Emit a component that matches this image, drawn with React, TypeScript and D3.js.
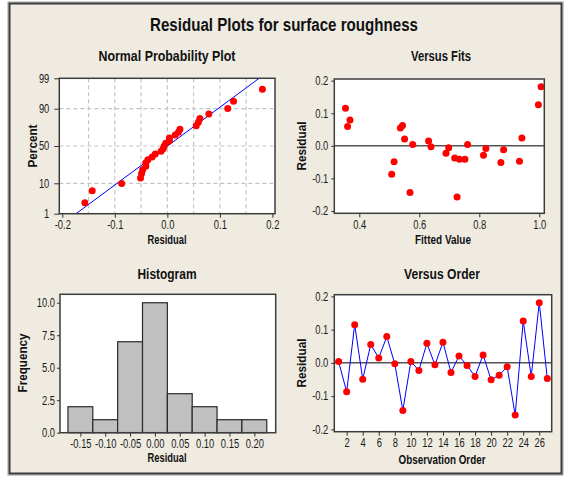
import React, { useEffect, useRef } from 'react';
import * as d3 from 'd3';

// residuals in observation order (read from "Versus Order")
const residuals = [
  0.004, -0.087, 0.115, -0.049, 0.055, 0.015, 0.079, -0.003, -0.143, 0.004,
  -0.023, 0.059, -0.006, 0.062, -0.029, 0.021, -0.008, -0.041, 0.024, -0.051,
  -0.037, -0.012, -0.157, 0.126, -0.041, 0.181, -0.047,
];
// fitted values, same order (read from "Versus Fits")
const fittedValues = [
  0.578, 0.508, 0.354, 0.516, 0.537, 0.631, 0.369, 0.639, 0.569, 0.761,
  0.689, 0.361, 0.698, 0.544, 0.814, 0.551, 0.822, 0.752, 0.942, 0.872,
  0.718, 0.881, 0.726, 0.997, 0.734, 1.006, 0.934,
];
const histMids = [-0.15, -0.1, -0.05, 0.0, 0.05, 0.1, 0.15, 0.2];
const histCounts = [2, 1, 7, 10, 3, 2, 1, 1];

const percentTicks = [1, 10, 50, 90, 99];
const percentGrid = [10, 50, 90];
const nppResidualTicks = [-0.2, -0.1, 0.0, 0.1, 0.2];
const nppGridTicks = [-0.15, -0.1, -0.05, 0, 0.05, 0.1, 0.15];
const residualTicks = [-0.2, -0.1, 0.0, 0.1, 0.2];
const fittedTicks = [0.4, 0.6, 0.8, 1.0];
const freqTicks = [0, 2.5, 5, 7.5, 10];
const orderTicks = [2, 4, 6, 8, 10, 12, 14, 16, 18, 20, 22, 24, 26];

const FONT = '"Liberation Sans", Arial, sans-serif';
const locale = d3.formatLocale({ decimal: '.', thousands: ',', grouping: [3], currency: ['', ''], minus: '-' });

// inverse normal cdf (Acklam) for the probability axis
function probit(p: number): number {
  const a = [-39.69683028665376, 220.9460984245205, -275.9285104469687, 138.357751867269, -30.66479806614716, 2.506628277459239];
  const b = [-54.47609879822406, 161.5858368580409, -155.6989798598866, 66.80131188771972, -13.28068155288572];
  const c = [-0.007784894002430293, -0.3223964580411365, -2.400758277161838, -2.549671010229528, 4.374664141464968, 2.938163982698783];
  const d = [0.007784695709041462, 0.3224671290700398, 2.445134137142996, 3.754408661907416];
  const plow = 0.02425;
  if (p < plow) {
    const q = Math.sqrt(-2 * Math.log(p));
    return (((((c[0] * q + c[1]) * q + c[2]) * q + c[3]) * q + c[4]) * q + c[5]) / ((((d[0] * q + d[1]) * q + d[2]) * q + d[3]) * q + 1);
  }
  if (p > 1 - plow) return -probit(1 - p);
  const q = p - 0.5;
  const r = q * q;
  return ((((((a[0] * r + a[1]) * r + a[2]) * r + a[3]) * r + a[4]) * r + a[5]) * q) / (((((b[0] * r + b[1]) * r + b[2]) * r + b[3]) * r + b[4]) * r + 1);
}

const App = () => {
  const svgRef = useRef<SVGSVGElement>(null);

  useEffect(() => {
    const svgEl = svgRef.current;
    if (!svgEl) return;
    const svg = d3.select(svgEl);
    svg.selectAll('*').remove();

    const W = 565;
    const H = 477;

    svg.append('rect').attr('width', W).attr('height', H).attr('fill', '#ffffff');
    // outer frame
    svg.append('rect').attr('x', 8).attr('y', 2).attr('width', 555).attr('height', 473)
      .attr('fill', 'none').attr('stroke', '#9a9a9a').attr('stroke-width', 1);
    svg.append('rect').attr('x', 9.5).attr('y', 3.5).attr('width', 552).attr('height', 470)
      .attr('fill', '#efebe1').attr('stroke', '#3a3a3a').attr('stroke-width', 2);

    // titles: width = width of the text in the reference (the original font is narrow)
    const text = (x: number, y: number, s: string, size: number, width: number, rotate = false) => {
      const t = svg.append('text')
        .attr('text-anchor', 'middle')
        .attr('font-family', FONT)
        .attr('font-size', size)
        .attr('font-weight', 'bold')
        .attr('fill', '#111')
        .attr('data-w', width)
        .text(s);
      if (rotate) t.attr('transform', `translate(${x},${y}) rotate(-90)`);
      else t.attr('x', x).attr('y', y);
      return t;
    };

    const styleAxis = (sel: any) => {
      sel.select('.domain').remove();
      sel.selectAll('line').attr('stroke', '#333').attr('stroke-width', 1);
      sel.selectAll('text').attr('fill', '#1a1a1a').attr('font-size', 12).attr('font-family', FONT)
        .attr('data-f', 0.78);
    };

    const panelBg = (p: any) => {
      svg.append('rect').attr('x', p.x0).attr('y', p.y0).attr('width', p.x1 - p.x0).attr('height', p.y1 - p.y0)
        .attr('fill', '#ffffff');
    };
    const panelFrame = (p: any) => {
      svg.append('rect').attr('x', p.x0).attr('y', p.y0).attr('width', p.x1 - p.x0).attr('height', p.y1 - p.y0)
        .attr('fill', 'none').attr('stroke', '#3c3c3c').attr('stroke-width', 1.5);
    };

    text(284, 31, 'Residual Plots for surface roughness', 18, 268);

    // ---- Normal probability plot
    const npp = { x0: 59.3, x1: 275, y0: 78.3, y1: 213.7 };
    panelBg(npp);
    const nx = d3.scaleLinear().domain([-0.2057, 0.205]).range([npp.x0, npp.x1]);
    const ny = d3.scaleLinear().domain([probit(0.01), probit(0.99)]).range([npp.y1, npp.y0]);

    svg.append('g').selectAll('line').data(nppGridTicks).join('line')
      .attr('x1', (d) => nx(d)).attr('x2', (d) => nx(d)).attr('y1', npp.y0).attr('y2', npp.y1)
      .attr('stroke', '#c4c4c4').attr('stroke-width', 1.2).attr('stroke-dasharray', '4,3');
    svg.append('g').selectAll('line').data(percentGrid).join('line')
      .attr('x1', npp.x0).attr('x2', npp.x1).attr('y1', (d) => ny(probit(d / 100))).attr('y2', (d) => ny(probit(d / 100)))
      .attr('stroke', '#c4c4c4').attr('stroke-width', 1.2).attr('stroke-dasharray', '4,3');

    const mean = d3.mean(residuals) ?? 0;
    const sd = d3.deviation(residuals) ?? 1;
    const zLo = probit(0.01);
    const zHi = probit(0.99);
    svg.append('line')
      .attr('x1', nx(mean + sd * zLo)).attr('y1', ny(zLo))
      .attr('x2', nx(mean + sd * zHi)).attr('y2', ny(zHi))
      .attr('stroke', '#0000ff').attr('stroke-width', 1);

    const sorted = residuals.slice().sort(d3.ascending);
    const n = sorted.length;
    svg.append('g').selectAll('circle').data(sorted).join('circle')
      .attr('cx', (d) => nx(d))
      .attr('cy', (d, i) => ny(probit((i + 1 - 0.3) / (n + 0.4))))
      .attr('r', 3.5).attr('fill', '#ff0000');
    panelFrame(npp);

    svg.append('g').attr('transform', `translate(0,${npp.y1})`)
      .call(d3.axisBottom(nx).tickValues(nppResidualTicks).tickSize(4).tickPadding(3).tickFormat(locale.format('.1f')) as any)
      .call(styleAxis);
    svg.append('g').attr('transform', `translate(${npp.x0},0)`)
      .call(d3.axisLeft(ny).tickValues(percentTicks.map((p) => probit(p / 100))).tickSize(5).tickPadding(5)
        .tickFormat((d, i) => String(percentTicks[i])) as any)
      .call(styleAxis);

    text(167, 61, 'Normal Probability Plot', 14, 137);
    text(167, 244, 'Residual', 12, 39);
    text(37, 146, 'Percent', 12, 43, true);

    // ---- Versus fits
    const fits = { x0: 334.3, x1: 544.3, y0: 79, y1: 213.3 };
    panelBg(fits);
    const fx = d3.scaleLinear().domain([0.3167, 1.0167]).range([fits.x0, fits.x1]);
    const fy = d3.scaleLinear().domain([-0.207, 0.205]).range([fits.y1, fits.y0]);
    svg.append('line').attr('x1', fits.x0).attr('x2', fits.x1).attr('y1', fy(0)).attr('y2', fy(0))
      .attr('stroke', '#555').attr('stroke-width', 1.5);
    svg.append('g').selectAll('circle').data(residuals).join('circle')
      .attr('cx', (d, i) => fx(fittedValues[i])).attr('cy', (d) => fy(d))
      .attr('r', 3.5).attr('fill', '#ff0000');
    panelFrame(fits);
    svg.append('g').attr('transform', `translate(0,${fits.y1})`)
      .call(d3.axisBottom(fx).tickValues(fittedTicks).tickSize(4).tickPadding(3).tickFormat(locale.format('.1f')) as any)
      .call(styleAxis);
    svg.append('g').attr('transform', `translate(${fits.x0},0)`)
      .call(d3.axisLeft(fy).tickValues(residualTicks).tickSize(3).tickPadding(3).tickFormat(locale.format('.1f')) as any)
      .call(styleAxis);
    text(441, 61, 'Versus Fits', 14, 60);
    text(443, 244, 'Fitted Value', 12, 56);
    text(305.5, 146, 'Residual', 12, 49, true);

    // ---- Histogram
    const hist = { x0: 60, x1: 275.7, y0: 294.3, y1: 432.7 };
    panelBg(hist);
    const hx = d3.scaleLinear().domain([-0.191, 0.243]).range([hist.x0, hist.x1]);
    const hy = d3.scaleLinear().domain([0, 10.65]).range([hist.y1, hist.y0]);
    const binW = 0.05;
    svg.append('g').selectAll('rect').data(histCounts).join('rect')
      .attr('x', (d, i) => hx(histMids[i] - binW / 2))
      .attr('width', (d, i) => hx(histMids[i] + binW / 2) - hx(histMids[i] - binW / 2))
      .attr('y', (d) => hy(d))
      .attr('height', (d) => hy(0) - hy(d))
      .attr('fill', '#c0c0c0').attr('stroke', '#2a2a2a').attr('stroke-width', 1.2);
    panelFrame(hist);
    svg.append('g').attr('transform', `translate(0,${hist.y1})`)
      .call(d3.axisBottom(hx).tickValues(histMids).tickSize(4).tickPadding(3).tickFormat(locale.format('.2f')) as any)
      .call(styleAxis);
    svg.append('g').attr('transform', `translate(${hist.x0},0)`)
      .call(d3.axisLeft(hy).tickValues(freqTicks).tickSize(3).tickPadding(2).tickFormat(locale.format('.1f')) as any)
      .call(styleAxis);
    text(167, 279, 'Histogram', 14, 59);
    text(167, 462, 'Residual', 12, 39);
    text(27, 363, 'Frequency', 12, 59, true);

    // ---- Versus order
    const ord = { x0: 334.3, x1: 551.7, y0: 294.7, y1: 431.7 };
    panelBg(ord);
    const obs = residuals.map((_, i) => i + 1);
    const ox = d3.scaleLinear().domain([0.46, 27.55]).range([ord.x0, ord.x1]);
    const oy = d3.scaleLinear().domain([-0.207, 0.205]).range([ord.y1, ord.y0]);
    svg.append('line').attr('x1', ord.x0).attr('x2', ord.x1).attr('y1', oy(0)).attr('y2', oy(0))
      .attr('stroke', '#555').attr('stroke-width', 1.5);
    const line = d3.line<number>().x((d, i) => ox(obs[i])).y((d) => oy(d));
    svg.append('path').datum(residuals).attr('d', line)
      .attr('fill', 'none').attr('stroke', '#0000ff').attr('stroke-width', 1);
    svg.append('g').selectAll('circle').data(residuals).join('circle')
      .attr('cx', (d, i) => ox(obs[i])).attr('cy', (d) => oy(d))
      .attr('r', 3.5).attr('fill', '#ff0000');
    panelFrame(ord);
    svg.append('g').attr('transform', `translate(0,${ord.y1})`)
      .call(d3.axisBottom(ox).tickValues(orderTicks).tickSize(4).tickPadding(3).tickFormat(locale.format('d')) as any)
      .call(styleAxis);
    svg.append('g').attr('transform', `translate(${ord.x0},0)`)
      .call(d3.axisLeft(oy).tickValues(residualTicks).tickSize(3).tickPadding(3).tickFormat(locale.format('.1f')) as any)
      .call(styleAxis);
    text(442, 279, 'Versus Order', 14, 76);
    text(442, 464, 'Observation Order', 12, 87);
    text(305.5, 363, 'Residual', 12, 49, true);

    // squeeze text horizontally to mimic the narrow original font
    svg.selectAll('text').each(function () {
      const el = this as SVGTextElement;
      const len = el.getComputedTextLength();
      const w = el.getAttribute('data-w');
      const f = el.getAttribute('data-f');
      const target = w ? +w : f ? len * +f : len;
      el.setAttribute('textLength', String(target));
      el.setAttribute('lengthAdjust', 'spacingAndGlyphs');
    });
  }, []);

  return (
    <svg
      ref={svgRef}
      width={565}
      height={477}
      style={{ position: 'absolute', left: 0, top: 0, display: 'block' }}
    />
  );
};

export default App;
